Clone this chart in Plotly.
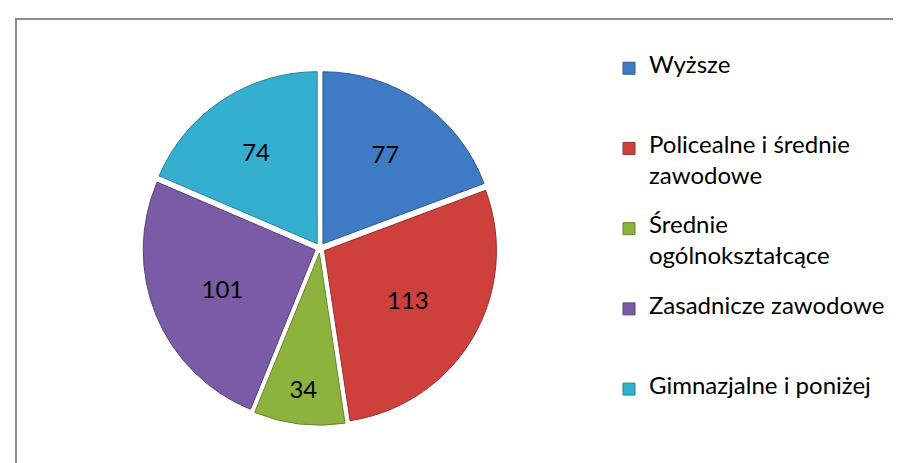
import plotly.graph_objects as go

categories = ["Wyższe", "Policealne i średnie<br>zawodowe", "Średnie<br>ogólnokształcące",
              "Zasadnicze zawodowe", "Gimnazjalne i poniżej"]
values = [77, 113, 34, 101, 74]
colors = ["#3E7BC4", "#CD403C", "#8DB33E", "#7A5BA5", "#35AFCF"]
edge_colors = ["#2C5A93", "#963230", "#66852C", "#58427A", "#27839C"]

# Legend entries: visible lines in 24px text on a finer line grid
# (text, gap, text, gap, gap) so entries are evenly spaced like the original.
legend_labels = []
for c in categories:
    parts = c.split("<br>")
    if len(parts) == 1:
        parts.append(" ")
    lines = ['<span style="font-size:24px">%s</span>' % parts[0], " ",
             '<span style="font-size:24px">%s</span>' % parts[1], " ", " "]
    legend_labels.append("<br>".join(lines))

W, H = 901, 463
cx, cy, r, pull = 312, 240, 172, 0.03
R = r * (1 + pull)

fig = go.Figure(go.Pie(
    labels=legend_labels,
    values=values,
    sort=False,
    direction="clockwise",
    rotation=0,
    pull=[pull] * len(values),
    marker=dict(colors=colors, line=dict(width=1, color=edge_colors)),
    textinfo="value",
    textposition="inside",
    insidetextorientation="horizontal",
    textfont=dict(family="Lato", size=24, color="black"),
    domain=dict(x=[(cx - R) / W, (cx + R) / W], y=[1 - (cy + R) / H, 1 - (cy - R) / H]),
    hoverinfo="value",
))

fig.update_layout(
    width=W, height=H,
    margin=dict(l=0, r=0, t=0, b=0),
    paper_bgcolor="white",
    font=dict(family="Lato", color="black"),
    legend=dict(
        x=601 / W, xanchor="left",
        y=1 - 46 / H, yanchor="top",
        valign="top",
        font=dict(family="Lato", size=11.88, color="black"),
        bgcolor="rgba(0,0,0,0)",
    ),
    shapes=[dict(type="rect", xref="paper", yref="paper",
                 x0=8 / W, x1=1.05, y0=-0.05, y1=1 - 11 / H,
                 line=dict(color="#8C8C8C", width=2), fillcolor="rgba(0,0,0,0)")],
)

fig.write_html("out.html")
